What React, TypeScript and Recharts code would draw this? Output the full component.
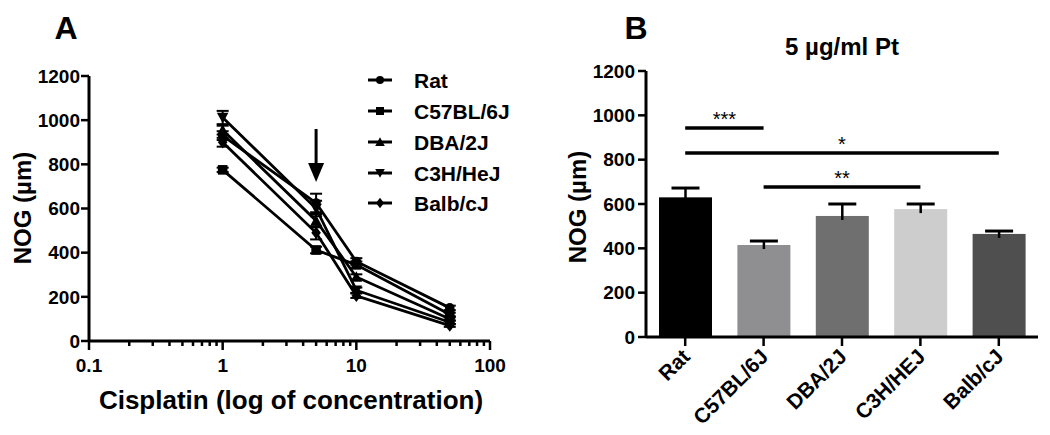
import React from 'react';
import { LineChart, Line, XAxis, YAxis, ErrorBar, ReferenceLine, BarChart, Bar, Cell } from 'recharts';

const FONT = '"Liberation Sans", Arial, Helvetica, sans-serif';

// ---------- Panel A data ----------
const concentrations = [1, 5, 10, 50];
const strainNames = ['Rat', 'C57BL/6J', 'DBA/2J', 'C3H/HeJ', 'Balb/cJ'];
const ratNog = [930, 625, 360, 150];
const c57Nog = [775, 412, 345, 120];
const dbaNog = [955, 545, 290, 100];
const c3hNog = [1012, 600, 230, 85];
const balbNog = [900, 490, 205, 70];
const ratSem = [20, 42, 15, 10];
const c57Sem = [10, 15, 15, 8];
const dbaSem = [20, 30, 12, 8];
const c3hSem = [30, 35, 12, 8];
const balbSem = [20, 30, 10, 6];

const majorTicks = [0.1, 1, 10, 100];
const majorTickLabels = ['0.1', '1', '10', '100'];
const logTicks = [0.1, 0.2, 0.3, 0.4, 0.5, 0.6, 0.7, 0.8, 0.9, 1, 2, 3, 4, 5, 6, 7, 8, 9, 10, 20, 30, 40, 50, 60, 70, 80, 90, 100];
const yTicks = [0, 200, 400, 600, 800, 1000, 1200];
const arrowX = 5;
const arrowFrom = 960;
const arrowTo = 720;

// ---------- Panel B data ----------
const barStrains = ['Rat', 'C57BL/6J', 'DBA/2J', 'C3H/HEJ', 'Balb/cJ'];
const barNog = [630, 415, 546, 577, 465];
const barSem = [42, 18, 54, 23, 13];
const barColors = ['#000000', '#8f8f91', '#6f6f6f', '#cdcdcd', '#4f4f4f'];
const sigLabels = ['***', '*', '**'];
const sigFrom = ['Rat', 'Rat', 'C57BL/6J'];
const sigTo = ['C57BL/6J', 'Balb/cJ', 'C3H/HEJ'];
const sigY = [943, 830, 677];

const lineRows = concentrations.map((c, i) => ({
  conc: c,
  rat: ratNog[i], ratErr: ratSem[i],
  c57: c57Nog[i], c57Err: c57Sem[i],
  dba: dbaNog[i], dbaErr: dbaSem[i],
  c3h: c3hNog[i], c3hErr: c3hSem[i],
  balb: balbNog[i], balbErr: balbSem[i],
}));

const seriesCfg = [
  { key: 'rat', kind: 'circle' },
  { key: 'c57', kind: 'square' },
  { key: 'dba', kind: 'up' },
  { key: 'c3h', kind: 'down' },
  { key: 'balb', kind: 'diamond' },
];

const barRows = barStrains.map((s, i) => ({ strain: s, nog: barNog[i], sem: barSem[i] }));

function markerEl(kind: string, cx: number, cy: number, s: number, key?: string) {
  switch (kind) {
    case 'circle':
      return <circle key={key} cx={cx} cy={cy} r={s} fill="#000" />;
    case 'square':
      return <rect key={key} x={cx - s} y={cy - s} width={2 * s} height={2 * s} fill="#000" />;
    case 'up':
      return <polygon key={key} points={`${cx},${cy - s * 1.2} ${cx - s * 1.2},${cy + s} ${cx + s * 1.2},${cy + s}`} fill="#000" />;
    case 'down':
      return <polygon key={key} points={`${cx},${cy + s * 1.2} ${cx - s * 1.2},${cy - s} ${cx + s * 1.2},${cy - s}`} fill="#000" />;
    default:
      return <polygon key={key} points={`${cx},${cy - s * 1.3} ${cx + s},${cy} ${cx},${cy + s * 1.3} ${cx - s},${cy}`} fill="#000" />;
  }
}

const LogTick = (props: any) => {
  const { x, y, payload } = props;
  const v = payload.value;
  const mi = majorTicks.findIndex((m) => Math.abs(m - v) < 1e-9);
  const major = mi >= 0;
  return (
    <g>
      <line x1={x} x2={x} y1={y} y2={y + (major ? 9 : 5)} stroke="#000" strokeWidth={2.5} />
      {major && (
        <text x={x} y={y + 31} textAnchor="middle" fontFamily={FONT} fontWeight="bold" fontSize={19} fill="#000">
          {majorTickLabels[mi]}
        </text>
      )}
    </g>
  );
};

const BarTick = (props: any) => {
  const { x, y, payload } = props;
  const ax = x + 6;
  const ay = y + 10;
  return (
    <text x={ax} y={ay} textAnchor="end" transform={`rotate(-45 ${ax} ${ay})`} fontFamily={FONT} fontWeight="bold" fontSize={21} fill="#000">
      {payload.value}
    </text>
  );
};

const ErrBarShape = (props: any) => {
  const { x, y, width, height, payload, index } = props;
  const ppu = height / payload.nog;
  const top = y - payload.sem * ppu;
  const cx = x + width / 2;
  return (
    <g>
      <rect x={x} y={y} width={width} height={height} fill={barColors[index]} />
      <line x1={cx} x2={cx} y1={top} y2={y + 4} stroke="#000" strokeWidth={2.5} />
      <line x1={cx - 14} x2={cx + 14} y1={top} y2={top} stroke="#000" strokeWidth={3} />
    </g>
  );
};

const ArrowShape = (props: any) => {
  const { x1, y1, x2, y2 } = props;
  const headH = 19;
  const headW = 8;
  return (
    <g>
      <line x1={x1} x2={x2} y1={y1} y2={y2 - headH + 2} stroke="#000" strokeWidth={3} />
      <polygon points={`${x2},${y2} ${x2 - headW},${y2 - headH} ${x2 + headW},${y2 - headH}`} fill="#000" />
    </g>
  );
};

const Title = ({ x, y, size, rotate, weight = 'bold', children }: any) => (
  <div
    style={{
      position: 'absolute',
      left: x,
      top: y,
      transform: `translate(-50%, -50%)${rotate ? ' rotate(-90deg)' : ''}`,
      fontFamily: FONT,
      fontWeight: weight,
      fontSize: size,
      whiteSpace: 'nowrap',
      lineHeight: 1,
      color: '#000',
    }}
  >
    {children}
  </div>
);

const legendRowsY = [80, 111, 142, 173, 203];

const axisTick = { fontFamily: FONT, fontWeight: 'bold', fontSize: 19, fill: '#000' };
const axisLineStyle = { stroke: '#000', strokeWidth: 3 };
const tickLineStyle = { stroke: '#000', strokeWidth: 2.5 };

export default function App() {
  return (
    <div style={{ position: 'absolute', left: 0, top: 0, width: 1050, height: 435, background: '#fff', overflow: 'hidden' }}>
      {/* Panel A */}
      <div style={{ position: 'absolute', left: 0, top: 0 }}>
        <LineChart width={520} height={435} data={lineRows} margin={{ top: 76, right: 30, bottom: 54, left: 29 }}>
          <XAxis
            type="number"
            dataKey="conc"
            scale="log"
            domain={[0.1, 100]}
            ticks={logTicks}
            interval={0}
            allowDataOverflow
            tick={<LogTick />}
            tickLine={false}
            tickSize={0}
            tickMargin={0}
            axisLine={axisLineStyle}
            height={40}
          />
          <YAxis
            type="number"
            domain={[0, 1200]}
            ticks={yTicks}
            interval={0}
            width={60}
            tick={axisTick}
            tickSize={8}
            tickMargin={1}
            tickLine={tickLineStyle}
            axisLine={axisLineStyle}
          />
          <ReferenceLine
            segment={[{ x: arrowX, y: arrowFrom }, { x: arrowX, y: arrowTo }]}
            stroke="#000"
            shape={(p: any) => <ArrowShape {...p} />}
          />
          {seriesCfg.map((s) => (
            <Line
              key={s.key}
              type="linear"
              dataKey={s.key}
              stroke="#000"
              strokeWidth={2.8}
              isAnimationActive={false}
              activeDot={false}
              dot={(p: any) => markerEl(s.kind, p.cx, p.cy, 4.8, `${s.key}-${p.index}`)}
            >
              <ErrorBar dataKey={`${s.key}Err`} width={6} stroke="#000" strokeWidth={2} direction="y" isAnimationActive={false} />
            </Line>
          ))}
        </LineChart>
      </div>

      {/* Legend A */}
      <svg style={{ position: 'absolute', left: 360, top: 60 }} width={170} height={160}>
        {strainNames.map((n, i) => {
          const cy = legendRowsY[i] - 60;
          return (
            <g key={n}>
              <line x1={8} x2={32} y1={cy} y2={cy} stroke="#000" strokeWidth={3} />
              {markerEl(seriesCfg[i].kind, 20, cy, 4)}
              <text x={54} y={cy + 7.5} fontFamily={FONT} fontWeight="bold" fontSize={21} fill="#000">
                {n}
              </text>
            </g>
          );
        })}
      </svg>

      {/* Panel B */}
      <div style={{ position: 'absolute', left: 520, top: 0 }}>
        <BarChart width={530} height={435} data={barRows} margin={{ top: 71, right: 12, bottom: 8, left: 56 }}>
          <XAxis
            dataKey="strain"
            type="category"
            interval={0}
            tick={<BarTick />}
            tickSize={9}
            tickMargin={2}
            tickLine={tickLineStyle}
            axisLine={axisLineStyle}
            height={90}
          />
          <YAxis
            type="number"
            domain={[0, 1200]}
            ticks={yTicks}
            interval={0}
            width={70}
            tick={axisTick}
            tickSize={8}
            tickMargin={3}
            tickLine={tickLineStyle}
            axisLine={axisLineStyle}
          />
          <Bar dataKey="nog" barSize={53} isAnimationActive={false} shape={(p: any) => <ErrBarShape {...p} />}>
            {barRows.map((r, i) => (
              <Cell key={r.strain} fill={barColors[i]} />
            ))}
          </Bar>
          {sigLabels.map((lab, i) => (
            <ReferenceLine
              key={lab}
              segment={[{ x: sigFrom[i], y: sigY[i] }, { x: sigTo[i], y: sigY[i] }]}
              stroke="#000"
              strokeWidth={3.5}
              label={{ value: lab, position: 'top', offset: 2, fontFamily: FONT, fontSize: 20, fill: '#000' }}
            />
          ))}
        </BarChart>
      </div>

      {/* Titles */}
      <Title x={66} y={28} size={32}>A</Title>
      <Title x={636} y={28} size={32}>B</Title>
      <Title x={842} y={47} size={24}>5 µg/ml Pt</Title>
      <Title x={291} y={400} size={26}>Cisplatin (log of concentration)</Title>
      <Title x={23} y={208} size={24} rotate>NOG (µm)</Title>
      <Title x={578} y={207} size={24} rotate>NOG (µm)</Title>
    </div>
  );
}
